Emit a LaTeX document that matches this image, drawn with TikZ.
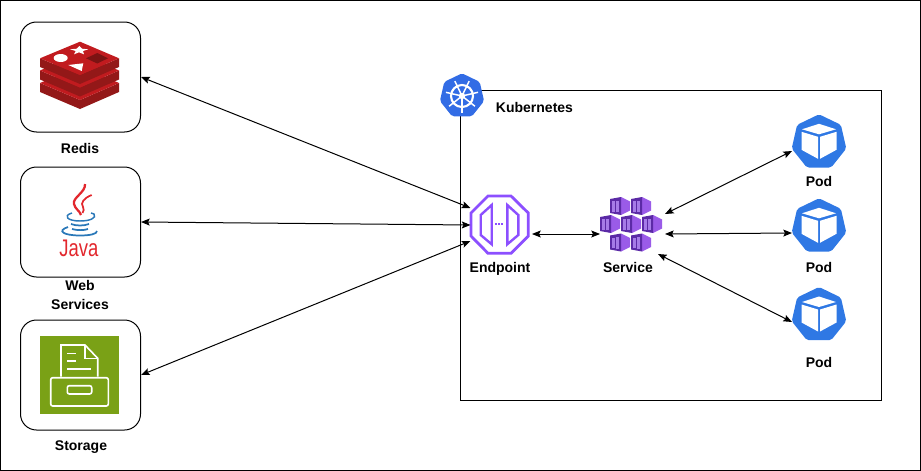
\documentclass[tikz,border=0pt]{standalone}
\usepackage{fontspec}
\setmainfont{Liberation Sans}
\usetikzlibrary{arrows.meta,shapes.geometric}
\definecolor{podblue}{HTML}{2F78E4}
\definecolor{kubeblue}{HTML}{326CE5}
\definecolor{redistop}{HTML}{C11B1F}
\definecolor{redisside}{HTML}{931818}
\definecolor{redisdark}{HTML}{7C1313}
\definecolor{javared}{HTML}{E2272D}
\definecolor{javablue}{HTML}{2A78B8}
\definecolor{storegreen}{HTML}{7AA116}
\definecolor{endpurple}{HTML}{8C4FFF}
\definecolor{cubedark}{HTML}{5B2AA6}
\definecolor{cubelight}{HTML}{9A5BE8}
\definecolor{cubestripe}{HTML}{A67BE8}
\begin{document}
\begin{tikzpicture}[x=0.75pt,y=-0.75pt,line width=0.75pt]
\tikzset{edge/.style = {<->,> = {Stealth[length=6.5pt,width=5.2pt,inset=1.2pt]}}}
\tikzset{box/.style = {draw=black,rounded corners=12pt,minimum width=90pt,minimum height=82.5pt,inner sep=0pt}}
\tikzset{label/.style = {font=\fontsize{10.5pt}{14pt}\selectfont\bfseries,align=center,inner sep=0pt}}
\tikzset{hept/.style = {regular polygon,regular polygon sides=7,inner sep=0pt,rounded corners=1.5pt}}
\tikzset{podcube/.pic = {
  \fill[white] (0,-18.5) -- (17,-13) -- (0,-8) -- (-17,-13) -- cycle;
  \fill[white] (-17.5,-10.5) -- (-1,-5.5) -- (-1,16.5) -- (-17.5,7.5) -- cycle;
  \fill[white] (17.5,-10.5) -- (1,-5.5) -- (1,16.5) -- (17.5,7.5) -- cycle;
}}
\tikzset{svccube/.pic = {
  \fill[cubelight] (1,-9) -- (10,-4.5) -- (10,4.5) -- (1,9) -- cycle;
  \fill[cubedark] (-10,-7) -- (1,-9) -- (1,9) -- (-10,7) -- cycle;
  \fill[cubestripe] (-8,-5) rectangle (-5.5,5.5);
  \fill[cubestripe] (-4,-5.5) rectangle (-1.5,6);
}}

\useasboundingbox (0,0) rectangle (921,471);
\draw[black] (0.5,0.5) rectangle (920.5,470.5);
\draw[black] (460.5,90.5) rectangle (881,400.5);

\node[box] (redis) at (80.5,77) {};
\node[box] (java) at (80.5,222) {};
\node[box] (storage) at (80.5,375) {};

\fill[redisside] (40,83) -- (80,100) -- (119,83) -- (119,92) -- (80,109) -- (40,92) -- cycle;
\fill[redistop] (40,83) -- (80,66) -- (119,83) -- (80,100) -- cycle;
\fill[redisside] (40,70.5) -- (80,87.5) -- (119,70.5) -- (119,79.5) -- (80,96.5) -- (40,79.5) -- cycle;
\fill[redistop] (40,70.5) -- (80,53.5) -- (119,70.5) -- (80,87.5) -- cycle;
\fill[redisside] (40,58.3) -- (80,75) -- (119,58.3) -- (119,67) -- (80,84) -- (40,67) -- cycle;
\fill[redistop] (40,58.3) -- (80,41.7) -- (119,58.3) -- (80,75) -- cycle;
\fill[white] (60.7,58) ellipse (7 and 4);
\fill[white] (79.3,46) -- (82,48.7) -- (88.3,49.3) -- (83,51) -- (84,54.3) -- (79,52.3) -- (74,54.3) -- (75.7,51) -- (70,49.3) -- (76.7,48.7) -- cycle;
\fill[white] (68.3,65) -- (83.3,63.3) -- (81.7,71) -- cycle;
\fill[redisdark] (86,58.3) -- (97.3,53) -- (108,58.3) -- (97.3,63.5) -- cycle;

\draw[javared,line width=1.7pt] (85,184) .. controls (86,192) and (72,198) .. (74,204) .. controls (75,209) and (80,211) .. (81,215);
\draw[javared,line width=1.3pt] (91.7,195) .. controls (84,198) and (80,203) .. (83,207) .. controls (84,209) and (84,211) .. (82.5,213);
\draw[javablue,line width=1.1pt] (72,213) .. controls (62,216) and (68,221) .. (80,221) .. controls (90,221) and (97,218) .. (94,214) -- (91,213);
\draw[javablue,line width=1.3pt] (71,224) .. controls (76,226) and (84,226) .. (89,224);
\draw[javablue,line width=1.3pt] (72,229) .. controls (77,230.5) and (84,230.5) .. (88,229);
\draw[javablue,line width=1.3pt] (68,227) .. controls (56,231) and (64,235.5) .. (80,235.5) .. controls (90,235.5) and (97,234) .. (97,231);
\node[text=javared,font=\fontsize{18pt}{18pt}\selectfont,xscale=0.77,inner sep=0pt] (javaword) at (79,248.5) {Java};

\fill[storegreen] (40.3,336) rectangle (119,414.3);
\draw[white,line width=1.2pt] (61,376.5) -- (61,345) -- (85,345) -- (97.7,358.3) -- (97.7,376.5);
\draw[white,line width=1.2pt] (85,345) -- (85,358.3) -- (97.7,358.3);
\draw[white,line width=1.2pt] (67.3,353.3) -- (75.7,353.3);
\draw[white,line width=1.2pt] (67.3,360.7) -- (75.7,360.7);
\draw[white,line width=1.2pt] (67.3,368.7) -- (90.7,368.7);
\draw[white,line width=1.2pt,rounded corners=1.5pt] (50.7,377.7) rectangle (108.3,406);
\draw[white,line width=1.2pt,rounded corners=1.5pt] (67.3,385.7) rectangle (91.7,394);

\node[hept,fill=kubeblue,minimum size=34pt] (kube) at (462,96) {};
\draw[white,line width=1.6pt] (kube.center) circle (11);
\foreach \a in {90,141.4,...,400} {\draw[white,line width=1.1pt] (462,96) ++(\a:2) -- ++(\a:14.5);}
\fill[white] (462,96) circle (3.2);

\node[minimum width=45pt,minimum height=45pt,inner sep=0pt] (endpoint) at (499.7,224.7) {};
\draw[endpurple,line width=2.1pt] (488,196) -- (511,196) -- (528.3,213) -- (528.3,236) -- (511,253.3) -- (488,253.3) -- (471,236) -- (471,213) -- cycle;
\draw[endpurple,line width=1.8pt] (491.7,205) -- (480.7,215) -- (480.7,235) -- (491.7,244.3) -- cycle;
\draw[endpurple,line width=1.8pt] (507.3,205) -- (518.3,215) -- (518.3,235) -- (507.3,244.3) -- cycle;
\draw[endpurple,line width=1.4pt,dash pattern=on 1.4pt off 1pt] (495,224.3) -- (504,224.3);

\pic at (620,206) {svccube};
\pic at (641,206) {svccube};
\pic at (610,224) {svccube};
\pic at (631,224) {svccube};
\pic at (652,224) {svccube};
\pic at (620,242.5) {svccube};
\pic at (641,242.5) {svccube};

\node[hept,fill=podblue,minimum size=42pt] (pod1) at (819,142.3) {};
\node[hept,fill=podblue,minimum size=42pt] (pod2) at (819,226.3) {};
\node[hept,fill=podblue,minimum size=42pt] (pod3) at (819,315) {};
\pic at (pod1.center) {podcube};
\pic at (pod2.center) {podcube};
\pic at (pod3.center) {podcube};

\node[label] (redislabel) at (80,148.4) {Redis};
\node[label] (javalabel) at (80,295.2) {Web\\Services};
\node[label] (storagelabel) at (81,446.6) {Storage};
\node[label] (kubelabel) at (534.5,107.4) {Kubernetes};
\node[label] (endpointlabel) at (500,268.6) {Endpoint};
\node[label] (servicelabel) at (628,267.2) {Service};
\node[label] (pod1label) at (819,181.2) {Pod};
\node[label] (pod2label) at (819,267.2) {Pod};
\node[label] (pod3label) at (819,362.2) {Pod};

\coordinate (endin1) at (470.5,208);
\coordinate (endin2) at (470.5,225);
\coordinate (endin3) at (470.5,241);
\coordinate (endout) at (532,234);
\coordinate (svcin) at (600,234);
\coordinate (svcout1) at (665,214);
\coordinate (svcout2) at (665,234);
\coordinate (svcout3) at (658,254);
\coordinate (pod1in) at (792,151);
\coordinate (pod2in) at (792,233);
\coordinate (pod3in) at (792,322);

\path [edge] (redis.east) edge (endin1);
\path [edge] (java.east) edge (endin2);
\path [edge] (storage.east) edge (endin3);
\path [edge] (endout) edge (svcin);
\path [edge] (svcout1) edge (pod1in);
\path [edge] (svcout2) edge (pod2in);
\path [edge] (svcout3) edge (pod3in);
\end{tikzpicture}
\end{document}
